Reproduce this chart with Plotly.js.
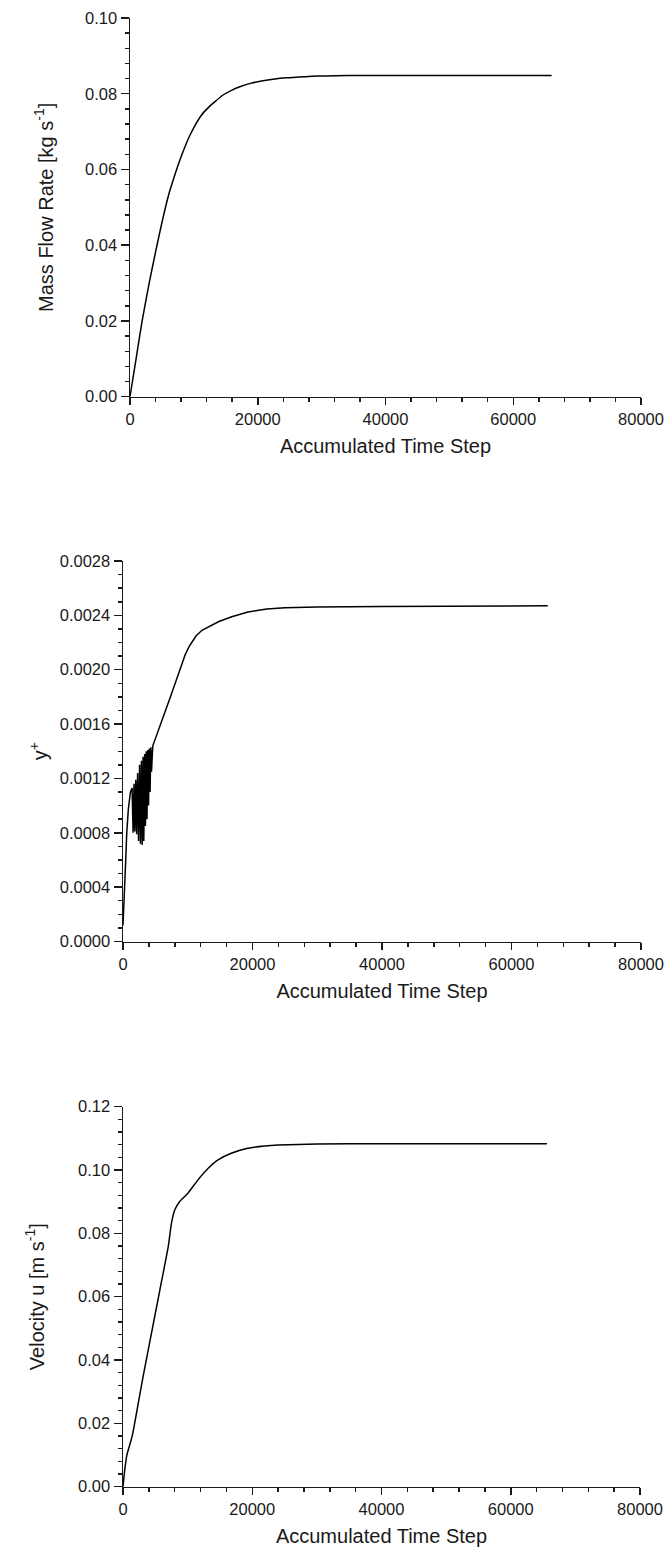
<!DOCTYPE html>
<html>
<head>
<meta charset="utf-8">
<script src="https://cdn.plot.ly/plotly-3.0.1.min.js"></script>
<style>
  html, body { margin: 0; padding: 0; background: #ffffff; }
  #plot { width: 672px; height: 1553px; }
</style>
</head>
<body>
<div id="plot"></div>
<script>
// Mass flow rate history
const massStep = [0, 1000, 1900, 3000, 4100, 5000, 6000, 7000, 8100, 9400, 11200, 12300, 13300, 14500, 15900, 17300, 19000, 20800, 22700, 24500, 26400, 28500, 30500, 34000, 40000, 66000];
const massFlow = [0, 0.0105, 0.0200, 0.0300, 0.0390, 0.0460, 0.0530, 0.0585, 0.0638, 0.0691, 0.0744, 0.0764, 0.0779, 0.0796, 0.0809, 0.0819, 0.0828, 0.0834, 0.0839, 0.0842, 0.0844, 0.0846, 0.0847, 0.0848, 0.0848, 0.0848];

// y+ history (start-up oscillation, then steady rise)
const yplusStep = [0, 60, 200, 420, 580, 820, 1150, 1400,
  1560, 1700, 1830, 1980, 2110, 2260, 2400, 2560, 2690, 2840, 2960, 3100, 3210,
  3350, 3460, 3590, 3700, 3830, 3940, 4070, 4180, 4300, 4400, 4520,
  4600, 7400, 9600, 10200, 10700, 11300, 12200, 13300, 14800, 16800, 19300, 22200, 25000, 30000, 40000, 65600];
const yplus = [0.00012, 0.00021, 0.00041, 0.00060, 0.00080, 0.00097, 0.00110, 0.00113,
  0.00080, 0.00116, 0.00081, 0.00119, 0.00079, 0.00124, 0.00074, 0.00130, 0.00072, 0.00133, 0.00071, 0.00136, 0.00074,
  0.00138, 0.00085, 0.00140, 0.00090, 0.00141, 0.00100, 0.00142, 0.00110, 0.00143, 0.00125, 0.00144,
  0.00144, 0.00181, 0.00211, 0.00217, 0.00221, 0.00225, 0.002290, 0.002320, 0.002355, 0.002390, 0.002425, 0.002447, 0.002456, 0.002462, 0.002466, 0.00247];

// Velocity history
const velStep = [0, 250, 600, 1400, 2050, 3100, 4400, 5700, 7000, 7500, 8000, 8750, 10050, 11600, 13150, 14700, 16750, 19300, 21900, 24000, 30000, 40000, 65600];
const velocity = [0, 0.0050, 0.0100, 0.0158, 0.0228, 0.0347, 0.0484, 0.0621, 0.0758, 0.0832, 0.0874, 0.0900, 0.0927, 0.0969, 0.1005, 0.1032, 0.1053, 0.1069, 0.1076, 0.1079, 0.1082, 0.1083, 0.1083];

const xTitle = 'Accumulated Time Step';
const yTitles = ['Mass Flow Rate [kg s<sup>-1</sup>]', 'y<sup>+</sup>', 'Velocity u [m s<sup>-1</sup>]'];

const W = 672, H = 1553;
const ink = '#1a1a1a';
const font = { family: '"Liberation Sans", Arial, sans-serif', size: 16.5, color: ink };

// pixel box -> paper fractions
function xd(l, r) { return [l / W, r / W]; }
function yd(t, b) { return [1 - b / H, 1 - t / H]; }

function xAxis(dom, anchor) {
  return {
    domain: dom, anchor: anchor, range: [0, 80000],
    dtick: 20000, tick0: 0, tickformat: 'd',
    ticks: 'outside', ticklen: 7, tickwidth: 1.5, tickcolor: ink,
    minor: { dtick: 4000, ticks: 'outside', ticklen: 4, tickwidth: 1.5, tickcolor: ink, showgrid: false },
    showline: true, linewidth: 1.5, linecolor: ink,
    showgrid: false, zeroline: false, automargin: false,
    tickfont: font,
    title: { text: xTitle, font: { family: font.family, size: 20, color: ink }, standoff: 12 }
  };
}
function yAxis(dom, anchor, range, dtick, minor, fmt, title, standoff) {
  return {
    domain: dom, anchor: anchor, range: range,
    dtick: dtick, tick0: 0, tickformat: fmt,
    ticks: 'outside', ticklen: 8, tickwidth: 1.5, tickcolor: ink,
    minor: { dtick: minor, ticks: 'outside', ticklen: 4, tickwidth: 1.5, tickcolor: ink, showgrid: false },
    showline: true, linewidth: 1.5, linecolor: ink,
    showgrid: false, zeroline: false, automargin: false,
    tickfont: font,
    title: { text: title, font: { family: font.family, size: 20, color: ink }, standoff: standoff }
  };
}

const lineStyle = { color: '#000000', width: 1.5 };
const traces = [
  { x: massStep, y: massFlow, xaxis: 'x', yaxis: 'y', mode: 'lines', line: Object.assign({ shape: 'spline', smoothing: 0.6 }, lineStyle), hoverinfo: 'skip' },
  { x: yplusStep, y: yplus, xaxis: 'x2', yaxis: 'y2', mode: 'lines', line: Object.assign({ shape: 'linear' }, lineStyle), hoverinfo: 'skip' },
  { x: velStep, y: velocity, xaxis: 'x3', yaxis: 'y3', mode: 'lines', line: Object.assign({ shape: 'spline', smoothing: 0.5 }, lineStyle), hoverinfo: 'skip' }
];

const layout = {
  width: W, height: H,
  margin: { l: 0, r: 0, t: 0, b: 0 },
  paper_bgcolor: '#ffffff', plot_bgcolor: '#ffffff',
  showlegend: false,
  font: font,
  xaxis: xAxis(xd(130, 641), 'y'),
  yaxis: yAxis(yd(18, 396.7), 'x', [0, 0.1], 0.02, 0.004, '.2f', yTitles[0], 26),
  xaxis2: xAxis(xd(123, 641), 'y2'),
  yaxis2: yAxis(yd(561, 941.5), 'x2', [0, 0.0028], 0.0004, 0.0001, '.4f', yTitles[1], 6),
  xaxis3: xAxis(xd(123, 640), 'y3'),
  yaxis3: yAxis(yd(1106.7, 1486.7), 'x3', [0, 0.12], 0.02, 0.004, '.2f', yTitles[2], 28)
};

Plotly.newPlot('plot', traces, layout, { staticPlot: true, displayModeBar: false });
</script>
</body>
</html>
